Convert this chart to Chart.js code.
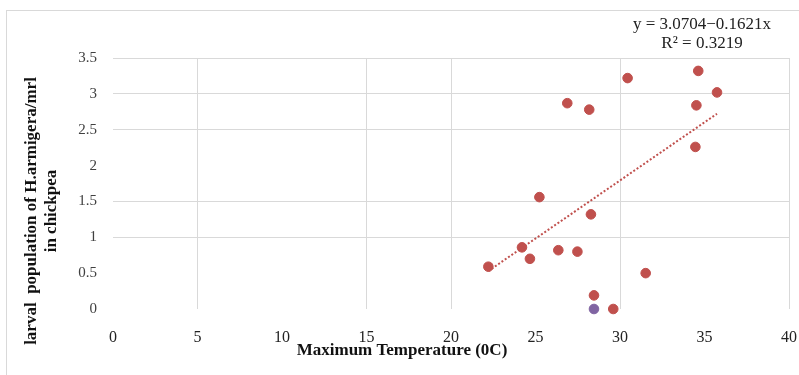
<!DOCTYPE html>
<html>
<head>
<meta charset="utf-8">
<script src="https://cdn.jsdelivr.net/npm/chart.js@4"></script>
<style>
  html, body { margin: 0; padding: 0; background: #fff; }
  #wrap { position: relative; width: 799px; height: 375px; overflow: hidden; }
  #frame { position: absolute; left: 6px; top: 10px; width: 800px; height: 380px;
           border: 1px solid #d9d9d9; pointer-events: none; }
  .eq { position: absolute; font-family: 'Liberation Serif', serif; color: #222;
        text-align: center; white-space: nowrap; font-size: 17px; line-height: 19px; }
</style>
</head>
<body>
<div id="wrap">
  <canvas id="chart" width="799" height="375"></canvas>
  <div id="frame"></div>
  <div class="eq" style="left:602px; top:14px; width:200px;">y = 3.0704−0.1621x</div>
  <div class="eq" style="left:602px; top:33px; width:200px;">R² = 0.3219</div>
</div>
<script>
// ── Data ──
const TEMP_X   = [30.45, 34.63, 35.74, 26.88, 28.18, 34.52, 34.46, 25.23, 28.28, 24.2, 24.67, 26.35, 27.48, 22.21, 31.52, 28.46, 29.6];
const LARVAE_Y = [3.22, 3.32, 3.02, 2.87, 2.78, 2.84, 2.26, 1.56, 1.32, 0.86, 0.70, 0.82, 0.80, 0.59, 0.50, 0.19, 0.0];
const EXTRA_X  = [28.46];
const EXTRA_Y  = [0.0];

// trendline as drawn (slope 0.1621, intercept -3.0704), over the range of the data
const TREND_SLOPE     = 0.1621;
const TREND_INTERCEPT = -3.0704;

const X_TICKS = [0, 5, 10, 15, 20, 25, 30, 35, 40];
const Y_TICKS = [0, 0.5, 1, 1.5, 2, 2.5, 3, 3.5];
const X_GRID_SHOWN = [5, 15, 20, 30, 40];
const Y_GRID_SHOWN = [1, 1.5, 2.5, 3, 3.5];

const Y_TITLE = ['larval  population of H.armigera/mrl', 'in chickpea'];
const X_TITLE = 'Maximum Temperature (0C)';

// ── Colours ──
const C_RED    = '#C0504D';
const C_PURPLE = '#8064A2';
const C_GRID   = '#d9d9d9';
const C_TICK   = '#404040';
const FONT     = "'Liberation Serif', 'Times New Roman', serif";

const scatter = TEMP_X.map((x, i) => ({ x, y: LARVAE_Y[i] }));
const extra   = EXTRA_X.map((x, i) => ({ x, y: EXTRA_Y[i] }));
const xMin = Math.min(...TEMP_X), xMax = Math.max(...TEMP_X);
const trend = [xMin, xMax].map(x => ({ x, y: TREND_INTERCEPT + TREND_SLOPE * x }));

// ── axis titles drawn by hand: the original sits them off the plot centre ──
const axisTitlePlugin = {
  id: 'axisTitles',
  afterDraw(chart) {
    const ctx = chart.ctx;
    ctx.save();
    ctx.font = "bold 17px " + FONT;
    ctx.fillStyle = '#111';
    ctx.textAlign = 'center';
    ctx.textBaseline = 'middle';
    Y_TITLE.forEach((line, i) => {
      ctx.save();
      ctx.translate(32 + i * 20, 211);
      ctx.rotate(-Math.PI / 2);
      ctx.fillText(line, 0, 0);
      ctx.restore();
    });
    ctx.fillText(X_TITLE, 402, 351);
    ctx.restore();
  }
};

new Chart(document.getElementById('chart'), {
  type: 'scatter',
  data: {
    datasets: [
      {
        label: 'trend',
        type: 'line',
        data: trend,
        borderColor: C_RED,
        borderWidth: 2,
        borderDash: [2, 2],
        pointRadius: 0,
        fill: false,
        order: 2,
      },
      {
        label: 'larvae',
        data: scatter,
        backgroundColor: C_RED,
        borderColor: C_RED,
        pointRadius: 4.8,
        clip: false,
        order: 1,
      },
      {
        label: 'extra',
        data: extra,
        backgroundColor: C_PURPLE,
        borderColor: C_PURPLE,
        pointRadius: 4.8,
        clip: false,
        order: 0,
      },
    ]
  },
  options: {
    responsive: false,
    animation: false,
    layout: { padding: { left: 0, right: 10, top: 58, bottom: 0 } },
    plugins: { legend: { display: false }, tooltip: { enabled: false } },
    scales: {
      x: {
        type: 'linear',
        min: 0, max: 40,
        afterBuildTicks: s => { s.ticks = X_TICKS.map(v => ({ value: v })); },
        afterFit: s => { s.height = 66; s.paddingLeft = 0; s.paddingRight = 0; },
        border: { display: false },
        grid: {
          drawTicks: false,
          color: c => X_GRID_SHOWN.includes(c.tick.value) ? C_GRID : 'rgba(0,0,0,0)',
        },
        ticks: { color: '#222', padding: 19, font: { size: 16, family: FONT } },
      },
      y: {
        type: 'linear',
        min: 0, max: 3.5,
        afterBuildTicks: s => { s.ticks = Y_TICKS.map(v => ({ value: v })); },
        afterFit: s => { s.width = 113; s.paddingTop = 0; s.paddingBottom = 0; },
        border: { display: false },
        grid: {
          drawTicks: false,
          color: c => Y_GRID_SHOWN.includes(c.tick.value) ? C_GRID : 'rgba(0,0,0,0)',
        },
        ticks: {
          color: C_TICK, padding: 16, font: { size: 15, family: FONT },
          callback: v => String(v),
        },
      }
    }
  },
  plugins: [axisTitlePlugin]
});
</script>
</body>
</html>
